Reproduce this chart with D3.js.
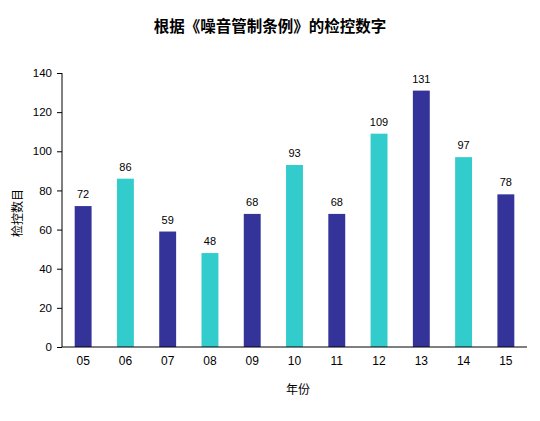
<!DOCTYPE html>
<html>
<head>
<meta charset="utf-8">
<script src="https://cdn.jsdelivr.net/npm/d3@7"></script>
<style>
  body { margin: 0; background: #fff; }
  svg { display: block; }
</style>
</head>
<body>
<div id="chart"></div>
<script>
// chart data
const years = ["05", "06", "07", "08", "09", "10", "11", "12", "13", "14", "15"];
const counts = [72, 86, 59, 48, 68, 93, 68, 109, 131, 97, 78];
const yTicks = [0, 20, 40, 60, 80, 100, 120, 140];
const barColors = ["#333399", "#33cccc"]; // alternating

const width = 540, height = 421;
const margin = { top: 73, right: 13, bottom: 74, left: 62 };

const svg = d3.select("#chart").append("svg")
    .attr("width", width)
    .attr("height", height);

const x = d3.scaleBand()
    .domain(years)
    .range([margin.left, width - margin.right])
    .paddingInner(0.6)
    .paddingOuter(0.3);

const y = d3.scaleLinear()
    .domain([0, 140])
    .range([height - margin.bottom, margin.top]);

// title
svg.append("text")
    .attr("x", 270)
    .attr("y", 32)
    .attr("text-anchor", "middle")
    .style("font-family", "'Noto Sans CJK SC', sans-serif")
    .style("font-size", "15.5px")
    .style("font-weight", "bold")
    .text("根据《噪音管制条例》的检控数字");

// bars
svg.append("g")
    .selectAll("rect")
    .data(counts)
    .join("rect")
    .attr("x", (d, i) => x(years[i]))
    .attr("y", d => y(d))
    .attr("width", x.bandwidth())
    .attr("height", d => y(0) - y(d))
    .attr("fill", (d, i) => barColors[i % 2]);

// value labels
svg.append("g")
    .selectAll("text")
    .data(counts)
    .join("text")
    .attr("x", (d, i) => x(years[i]) + x.bandwidth() / 2)
    .attr("y", d => y(d) - 8)
    .attr("text-anchor", "middle")
    .style("font-family", "Arial, 'Liberation Sans', sans-serif")
    .style("font-size", "11px")
    .text(d => d);

// y-axis
const yAxis = svg.append("g")
    .attr("transform", `translate(${margin.left}, 0)`)
    .call(d3.axisLeft(y).tickValues(yTicks).tickSize(5).tickPadding(5));
yAxis.select(".domain").attr("d", `M0,${y(140)}V${y(0)}`);
yAxis.selectAll(".tick text").style("font-size", "11.5px");

// x-axis (line only, no ticks)
const xAxis = svg.append("g")
    .attr("transform", `translate(0, ${y(0)})`)
    .call(d3.axisBottom(x).tickSize(0).tickPadding(9));
xAxis.select(".domain").attr("d", `M${margin.left},0H${width - margin.right}`);
xAxis.selectAll(".tick text").style("font-size", "12px");

svg.selectAll(".tick text")
    .style("font-family", "Arial, 'Liberation Sans', sans-serif")
    .attr("fill", "#000");
svg.selectAll(".domain, .tick line").attr("stroke", "#000");

// axis labels
svg.append("text")
    .attr("x", 298)
    .attr("y", 394)
    .attr("text-anchor", "middle")
    .style("font-family", "'Noto Sans CJK SC', sans-serif")
    .style("font-size", "12px")
    .text("年份");

svg.append("text")
    .attr("transform", "translate(22, 213) rotate(-90)")
    .attr("text-anchor", "middle")
    .style("font-family", "'Noto Sans CJK SC', sans-serif")
    .style("font-size", "12px")
    .text("检控数目");
</script>
</body>
</html>
